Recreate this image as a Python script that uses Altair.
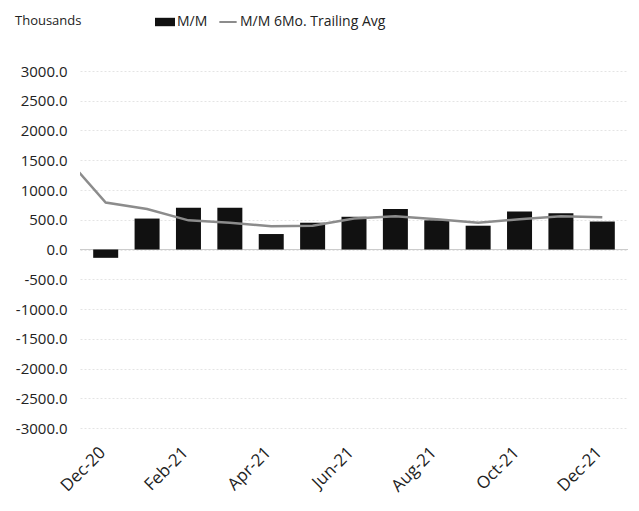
import altair as alt
import pandas as pd

months = ["Dec-20", "Jan-21", "Feb-21", "Mar-21", "Apr-21", "May-21", "Jun-21",
          "Jul-21", "Aug-21", "Sep-21", "Oct-21", "Nov-21", "Dec-21"]
mm = [-140, 520, 700, 700, 260, 450, 550, 680, 490, 400, 640, 610, 470]
# trailing average; first value belongs to Nov-20, just left of the plot
avg_months = ["Nov-20"] + months
avg = [1580, 790, 680, 490, 450, 390, 400, 520, 560, 510, 450, 510, 560, 540]
y_ticks = [-3000, -2500, -2000, -1500, -1000, -500, 0, 500, 1000, 1500, 2000, 2500, 3000]
unit_label = "Thousands"

bars_df = pd.DataFrame({"idx": list(range(len(months))), "month": months, "value": mm,
                        "series": ["M/M"] * len(months)})
line_df = pd.DataFrame({"idx": list(range(-1, len(months))), "month": avg_months, "value": avg,
                        "series": ["M/M 6Mo. Trailing Avg"] * len(avg_months)})

font = "Open Sans"
label_expr = "[" + ",".join("'%s'" % m for m in months) + "][datum.value]"

xscale = alt.Scale(domain=[-0.5, len(months) - 0.5], nice=False, zero=False)
yscale = alt.Scale(domain=[-3000, 3000], nice=False)

xaxis = alt.Axis(values=list(range(0, len(months), 2)), labelExpr=label_expr,
                 labelAngle=-45, labelAlign="right", labelBaseline="top",
                 labelFontSize=17, labelFont=font, labelColor="#222", labelOverlap=False,
                 labelOffset=-9, domain=False, ticks=False, grid=False, title=None,
                 labelPadding=16)
yaxis = alt.Axis(values=y_ticks, labelExpr="replace(format(datum.value, '.1f'), '\u2212', '-')",
                 labelFontSize=15, labelFont=font, labelOverlap=False,
                 labelColor="#222", domain=False, ticks=False, grid=True,
                 gridColor="#e4e4e4", gridDash=[2, 2], title=None, labelPadding=13)

zero = alt.Chart(pd.DataFrame({"v": [0], "i": [0]})).mark_rule(color="#cccccc", strokeWidth=1).encode(
    y=alt.Y("v:Q", scale=yscale, axis=yaxis))

rect_symbol = "M-1,-0.42L1,-0.42L1,0.42L-1,0.42Z"

bars = alt.Chart(bars_df).mark_bar(size=25, color="#111111").encode(
    x=alt.X("idx:Q", scale=xscale, axis=xaxis),
    y=alt.Y("value:Q", scale=yscale, axis=yaxis),
    fill=alt.Fill("series:N", scale=alt.Scale(range=["#111111"]),
                  legend=alt.Legend(orient="none", legendX=75, legendY=-59, title=None,
                                    symbolType=rect_symbol, symbolSize=400,
                                    labelFontSize=14, labelFont=font, labelColor="#222",
                                    labelOffset=2, symbolStrokeWidth=0)),
)

line = alt.Chart(line_df).mark_line(strokeWidth=2.5, clip=True).encode(
    x=alt.X("idx:Q", scale=xscale, axis=xaxis),
    y=alt.Y("value:Q", scale=yscale, axis=yaxis),
    stroke=alt.Stroke("series:N", scale=alt.Scale(range=["#8c8c8c"]),
                      legend=alt.Legend(orient="none", legendX=138, legendY=-59, title=None,
                                        symbolType="stroke", symbolSize=300,
                                        symbolStrokeWidth=2, labelFontSize=14,
                                        labelOffset=2, labelFont=font, labelColor="#222")),
)

title = alt.Chart(pd.DataFrame({"t": [unit_label]})).mark_text(
    align="left", baseline="middle", fontSize=13, font=font, color="#222"
).encode(x=alt.value(-65), y=alt.value(-50), text="t:N")

chart = alt.layer(zero, bars, line, title).resolve_scale(fill="independent", stroke="independent").properties(
    width=548, height=357,
    autosize=alt.AutoSizeParams(type="none"),
    padding={"left": 72, "top": 63, "right": 0, "bottom": 70},
).configure_view(stroke=None)

chart.save("out.html", embed_options={"renderer": "svg", "actions": False})
